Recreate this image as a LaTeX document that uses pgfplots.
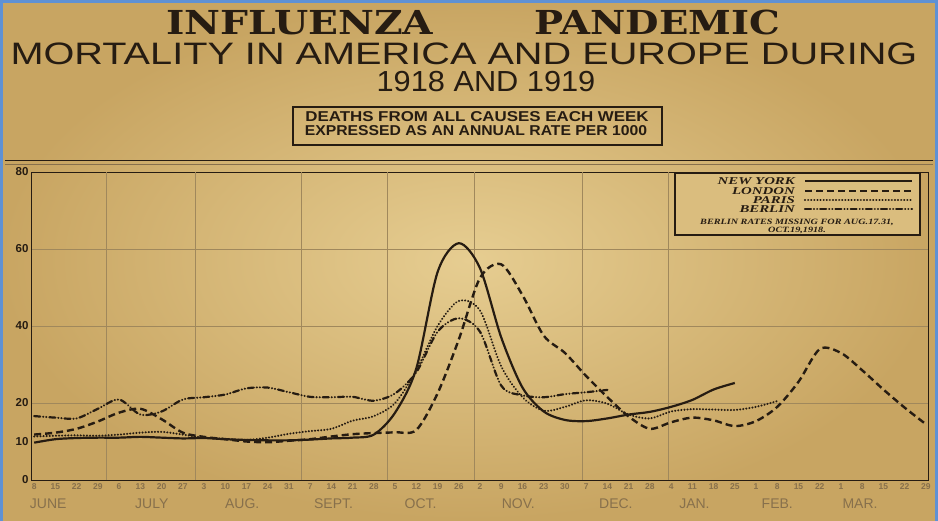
\documentclass[border=0pt]{standalone}
\usepackage{pgfplots}
\pgfplotsset{compat=1.18}
\usepackage{pgfplotstable}
\usepackage{fontspec}
\setmainfont{Liberation Sans}
\newfontfamily\titlefont{DejaVu Serif}
\newfontfamily\legfont{Liberation Serif}
\definecolor{paperlight}{RGB}{230,205,145}
\definecolor{paperdark}{RGB}{200,165,98}
\definecolor{ink}{RGB}{38,28,18}
\definecolor{faint}{RGB}{135,112,76}
\definecolor{gridc}{RGB}{160,136,92}
\definecolor{frameblue}{RGB}{95,145,212}

\pgfplotstableread{
x y
0 9.7
1 10.6
2 10.9
3 11.0
4 11.0
5 11.2
6 11.0
7 10.8
8 10.9
9 10.6
10 10.4
11 10.3
12 10.3
13 10.5
14 10.8
15 11.0
16 11.8
17 17.5
18 29.0
19 54.0
20 61.5
21 55.0
22 37.0
23 24.0
24 17.8
25 15.6
26 15.3
27 16.0
28 17.0
29 17.7
30 19.0
31 20.8
32 23.5
33 25.2
}\newyork

\pgfplotstableread{
x y
0 11.8
1 12.3
2 13.3
3 15.2
4 17.5
5 18.5
6 15.8
7 12.3
8 11.2
9 10.6
10 10.0
11 9.8
12 10.2
13 10.6
14 11.3
15 11.9
16 12.2
17 12.4
18 13.0
19 22.5
20 36.5
21 52.5
22 56.0
23 48.0
24 37.5
25 33.0
26 27.0
27 21.5
28 16.5
29 13.3
30 15.0
31 16.2
32 15.5
33 14.0
34 15.3
35 19.0
36 25.5
37 34.0
38 33.0
39 28.5
40 23.5
41 18.8
42 14.5
}\london

\pgfplotstableread{
x y
0 11.3
1 11.5
2 11.6
3 11.5
4 11.8
5 12.3
6 12.5
7 11.8
8 11.0
9 10.7
10 10.4
11 11.0
12 12.0
13 12.7
14 13.3
15 15.4
16 16.6
17 20.0
18 28.5
19 40.0
20 46.5
21 44.0
22 29.5
23 21.5
24 18.0
25 19.0
26 20.7
27 19.8
28 17.0
29 16.0
30 17.8
31 18.4
32 18.3
33 18.2
34 19.0
35 20.5
}\paris

\pgfplotstableread{
x y
0 16.6
1 16.2
2 16.0
3 18.5
4 20.9
5 17.0
6 17.8
7 20.9
8 21.5
9 22.2
10 23.8
11 24.0
12 22.8
13 21.6
14 21.5
15 21.6
16 20.6
17 22.5
18 28.0
19 38.5
20 42.0
21 38.5
22 24.5
23 22.0
24 21.5
25 22.3
26 22.8
27 23.4
}\berlin

\tikzset{
  nyline/.style={ink, line width=2.2pt},
  ldline/.style={ink, line width=2.4pt, dash pattern=on 7pt off 4pt},
  paline/.style={ink, line width=2.2pt, line cap=round, dash pattern=on 0.1pt off 3pt},
  beline/.style={ink, line width=2.2pt, line cap=round, dash pattern=on 6pt off 3pt on 0.1pt off 3pt on 0.1pt off 3pt},
  monthlab/.style={text=faint, font=\fontsize{14}{14}\selectfont, anchor=base, yshift=-28pt},
  legtext/.style={ink, anchor=base east, inner sep=0pt, font=\legfont\bfseries\itshape\fontsize{11}{11}\selectfont},
}

\begin{document}
\begin{tikzpicture}
\useasboundingbox (0pt,0pt) rectangle (938pt,520pt);
\shade[inner color=paperlight, outer color=paperdark] (0pt,0pt) rectangle (938pt,520pt);
\draw[frameblue, line width=3pt] (1.5pt,-2pt) -- (1.5pt,518.5pt) -- (936.5pt,518.5pt) -- (936.5pt,-2pt);

% titles
\node[ink, anchor=base, inner sep=0pt, font=\titlefont\bfseries\fontsize{33}{33}\selectfont] at (300pt,485pt) {\scalebox{1.19}[1]{INFLUENZA}};
\node[ink, anchor=base, inner sep=0pt, font=\titlefont\bfseries\fontsize{33}{33}\selectfont] at (657pt,485pt) {\scalebox{1.17}[1]{PANDEMIC}};
\node[ink, anchor=base, inner sep=0pt, font=\fontsize{31}{31}\selectfont] at (464pt,455pt) {\scalebox{1.28}[1]{MORTALITY IN AMERICA AND EUROPE DURING}};
\node[ink, anchor=base, inner sep=0pt, font=\fontsize{29}{29}\selectfont] at (486pt,428pt) {\scalebox{1.06}[1]{1918 AND 1919}};
\draw[ink, line width=1.4pt] (293pt,413pt) rectangle (662pt,375pt);
\node[ink, anchor=base, font=\bfseries\fontsize{13}{13}\selectfont] at (477pt,398pt) {\scalebox{1.3}[1.1]{DEATHS FROM ALL CAUSES EACH WEEK}};
\node[ink, anchor=base, font=\bfseries\fontsize{13}{13}\selectfont] at (476pt,384pt) {\scalebox{1.21}[1.1]{EXPRESSED AS AN ANNUAL RATE PER 1000}};
\draw[ink, line width=1pt] (5pt,359pt) -- (933pt,359pt);
\draw[faint, line width=0.6pt] (5pt,356pt) -- (933pt,356pt);

\begin{axis}[
  at={(31pt,40pt)}, anchor=south west,
  width=897pt, height=308pt, scale only axis,
  xmin=-0.15, xmax=42.1, ymin=0, ymax=80,
  axis line style={ink, line width=1pt},
  xtick={0,...,42},
  xticklabels={8,15,22,29,6,13,20,27,3,10,17,24,31,7,14,21,28,5,12,19,26,2,9,16,23,30,7,14,21,28,4,11,18,25,1,8,15,22,1,8,15,22,29},
  x tick label style={font=\bfseries\fontsize{8.5}{8.5}\selectfont, text=faint},
  ytick={0,20,40,60,80},
  extra y ticks={10},
  extra y tick style={grid=none},
  /pgf/number format/assume math mode=true,
  y tick label style={font=\bfseries\fontsize{11.5}{11.5}\selectfont, text=ink, xshift=1pt},
  extra x ticks={3.4,7.6,12.6,16.65,20.75,25.8,29.86},
  extra x tick labels={},
  extra x tick style={grid=major},
  ymajorgrids=true,
  major grid style={gridc, line width=0.6pt},
  major tick length=0pt,
  clip mode=individual,
]
\addplot[nyline, smooth, tension=0.5] table {\newyork};
\addplot[ldline, smooth, tension=0.5] table {\london};
\addplot[paline, smooth, tension=0.5] table {\paris};
\addplot[beline, smooth, tension=0.5] table {\berlin};
\node[monthlab] at (axis cs:0.66,0) {JUNE};
\node[monthlab] at (axis cs:5.54,0) {JULY};
\node[monthlab] at (axis cs:9.8,0) {AUG.};
\node[monthlab] at (axis cs:14.1,0) {SEPT.};
\node[monthlab] at (axis cs:18.2,0) {OCT.};
\node[monthlab] at (axis cs:22.8,0) {NOV.};
\node[monthlab] at (axis cs:27.4,0) {DEC.};
\node[monthlab] at (axis cs:31.1,0) {JAN.};
\node[monthlab] at (axis cs:35.0,0) {FEB.};
\node[monthlab] at (axis cs:38.9,0) {MAR.};
\end{axis}

% legend
\fill[paperlight!60!paperdark] (675pt,347pt) rectangle (920pt,285pt);
\draw[ink, line width=1.2pt] (675pt,347pt) rectangle (920pt,285pt);
\node[legtext] at (795pt,335.5pt) {\scalebox{1.35}[0.95]{NEW YORK}};
\node[legtext] at (795pt,325.5pt) {\scalebox{1.35}[0.95]{LONDON}};
\node[legtext] at (795pt,316.5pt) {\scalebox{1.35}[0.95]{PARIS}};
\node[legtext] at (795pt,307.5pt) {\scalebox{1.35}[0.95]{BERLIN}};
\draw[nyline] (805pt,339pt) -- (912pt,339pt);
\draw[ldline] (805pt,329pt) -- (912pt,329pt);
\draw[paline] (805pt,320pt) -- (912pt,320pt);
\draw[beline] (805pt,311pt) -- (912pt,311pt);
\node[ink, anchor=base, inner sep=0pt, font=\legfont\bfseries\itshape\fontsize{8.5}{8.5}\selectfont] at (797pt,295pt) {\scalebox{1.2}[0.95]{BERLIN RATES MISSING FOR AUG.17.31,}};
\node[ink, anchor=base, inner sep=0pt, font=\legfont\bfseries\itshape\fontsize{8.5}{8.5}\selectfont] at (797pt,287pt) {\scalebox{1.2}[0.95]{OCT.19,1918.}};
\end{tikzpicture}
\end{document}
